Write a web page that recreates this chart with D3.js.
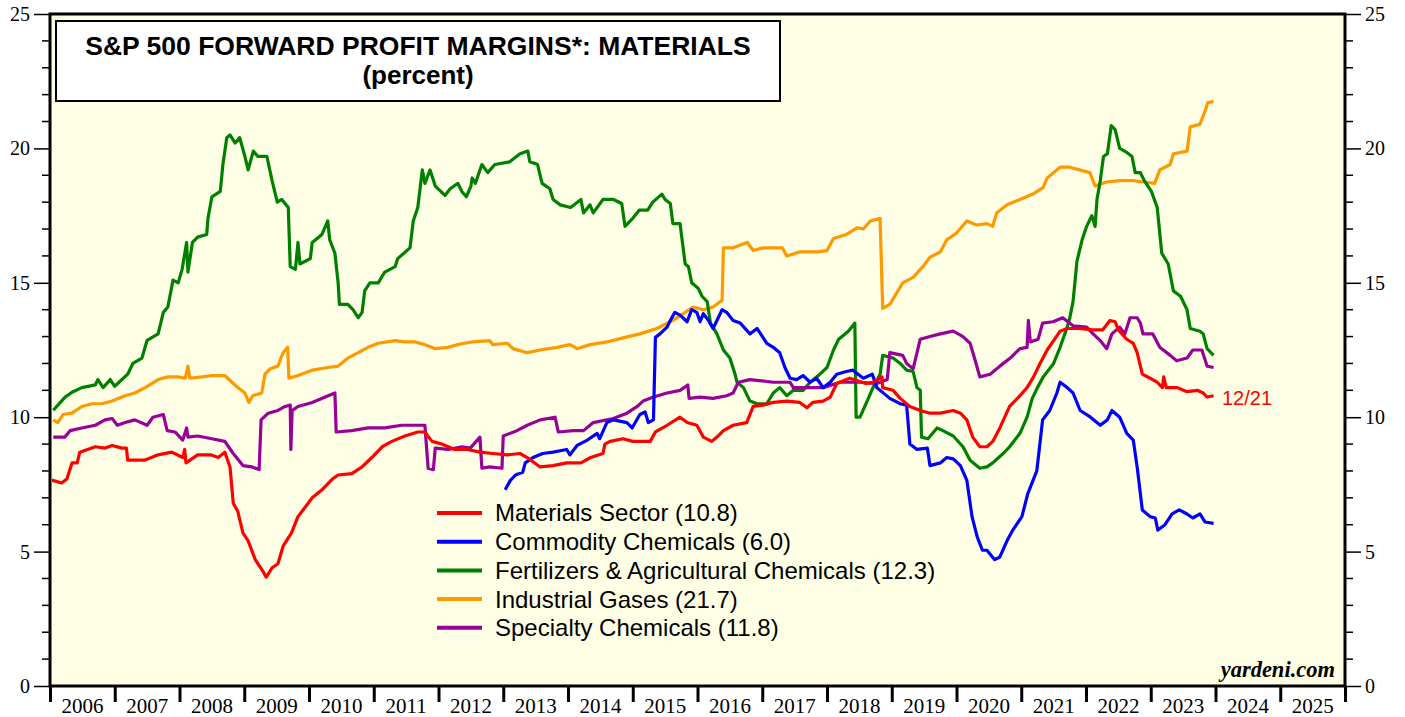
<!DOCTYPE html>
<html lang="en">
<head>
<meta charset="utf-8">
<title>S&P 500 Forward Profit Margins: Materials</title>
<script src="https://d3js.org/d3.v7.min.js"></script>
<style>
  body { margin: 0; background: #fff; }
  svg { display: block; }
</style>
</head>
<body>
<script>
// data: [decimal year, percent]
const materials = [[2006.03,7.66],[2006.18,7.55],[2006.26,7.7],[2006.34,8.3],[2006.42,8.3],[2006.46,8.7],[2006.58,8.8],[2006.7,8.9],[2006.85,8.85],[2006.96,8.95],[2007.11,8.85],[2007.18,8.85],[2007.2,8.4],[2007.46,8.4],[2007.67,8.6],[2007.88,8.7],[2008.05,8.5],[2008.08,8.8],[2008.1,8.3],[2008.28,8.6],[2008.48,8.6],[2008.6,8.5],[2008.7,8.7],[2008.78,8.15],[2008.83,6.8],[2008.9,6.5],[2008.98,5.7],[2009.06,5.4],[2009.17,4.7],[2009.28,4.3],[2009.34,4.05],[2009.43,4.4],[2009.52,4.55],[2009.6,5.2],[2009.73,5.7],[2009.83,6.3],[2009.94,6.65],[2010.05,7.0],[2010.2,7.3],[2010.36,7.7],[2010.45,7.85],[2010.66,7.9],[2010.82,8.15],[2010.97,8.5],[2011.13,8.9],[2011.28,9.1],[2011.48,9.3],[2011.68,9.45],[2011.79,9.45],[2011.9,9.1],[2012.05,9.0],[2012.25,8.8],[2012.45,8.8],[2012.64,8.7],[2012.84,8.65],[2013.06,8.6],[2013.26,8.65],[2013.37,8.5],[2013.57,8.15],[2013.77,8.2],[2013.98,8.3],[2014.2,8.3],[2014.35,8.5],[2014.54,8.65],[2014.57,9.0],[2014.65,9.1],[2014.85,9.2],[2015.0,9.1],[2015.16,9.1],[2015.27,9.1],[2015.35,9.45],[2015.53,9.7],[2015.73,10.0],[2015.84,9.8],[2015.99,9.7],[2016.09,9.26],[2016.22,9.1],[2016.3,9.26],[2016.4,9.5],[2016.55,9.7],[2016.76,9.8],[2016.86,10.4],[2017.01,10.45],[2017.17,10.55],[2017.38,10.6],[2017.58,10.55],[2017.69,10.35],[2017.78,10.55],[2017.94,10.6],[2018.05,10.75],[2018.15,11.25],[2018.35,11.45],[2018.6,11.25],[2018.71,11.3],[2018.85,11.5],[2018.86,11.1],[2019.02,11.0],[2019.13,10.7],[2019.28,10.4],[2019.44,10.25],[2019.59,10.15],[2019.75,10.15],[2019.95,10.25],[2020.06,10.15],[2020.16,9.9],[2020.25,9.26],[2020.36,8.9],[2020.47,8.9],[2020.56,9.1],[2020.67,9.6],[2020.82,10.4],[2020.98,10.8],[2021.09,11.1],[2021.19,11.5],[2021.29,12.0],[2021.4,12.5],[2021.5,12.85],[2021.6,13.2],[2021.71,13.3],[2021.9,13.3],[2022.1,13.25],[2022.26,13.25],[2022.37,13.6],[2022.45,13.55],[2022.5,13.25],[2022.63,12.9],[2022.73,12.75],[2022.79,12.4],[2022.87,11.6],[2022.99,11.45],[2023.1,11.3],[2023.18,11.1],[2023.2,11.5],[2023.24,11.1],[2023.41,11.1],[2023.56,10.95],[2023.72,11.0],[2023.81,10.9],[2023.87,10.75],[2023.97,10.8]];

const commodity = [[2013.03,7.3],[2013.11,7.65],[2013.19,7.85],[2013.3,7.95],[2013.34,8.3],[2013.46,8.5],[2013.61,8.65],[2013.77,8.7],[2013.98,8.8],[2014.03,8.6],[2014.14,8.95],[2014.3,9.15],[2014.45,9.4],[2014.49,9.2],[2014.6,9.8],[2014.7,9.9],[2014.91,9.8],[2014.99,9.6],[2015.11,10.1],[2015.19,10.2],[2015.24,9.8],[2015.32,9.9],[2015.35,12.97],[2015.42,13.1],[2015.53,13.35],[2015.58,13.6],[2015.65,13.9],[2015.73,13.8],[2015.84,13.55],[2015.91,14.0],[2015.99,13.9],[2016.04,13.55],[2016.09,13.85],[2016.17,13.6],[2016.24,13.3],[2016.3,13.6],[2016.38,14.0],[2016.45,13.9],[2016.55,13.6],[2016.66,13.5],[2016.81,13.1],[2016.92,13.3],[2017.07,12.75],[2017.17,12.6],[2017.27,12.4],[2017.35,11.85],[2017.43,11.45],[2017.53,11.4],[2017.63,11.55],[2017.74,11.3],[2017.84,11.45],[2017.94,11.1],[2018.05,11.3],[2018.15,11.6],[2018.3,11.7],[2018.4,11.75],[2018.56,11.45],[2018.7,11.6],[2018.77,11.1],[2018.97,10.7],[2019.13,10.5],[2019.23,10.45],[2019.28,9.0],[2019.39,8.8],[2019.55,8.85],[2019.59,8.2],[2019.75,8.3],[2019.85,8.5],[2019.95,8.45],[2020.06,8.2],[2020.16,7.65],[2020.24,6.3],[2020.32,5.55],[2020.4,5.05],[2020.47,5.05],[2020.59,4.7],[2020.67,4.8],[2020.78,5.4],[2020.87,5.8],[2021.01,6.3],[2021.1,7.15],[2021.24,8.0],[2021.33,9.9],[2021.44,10.25],[2021.55,10.9],[2021.6,11.3],[2021.71,11.1],[2021.8,10.9],[2021.91,10.25],[2022.07,10.0],[2022.22,9.7],[2022.33,9.9],[2022.4,10.25],[2022.52,10.0],[2022.63,9.4],[2022.73,9.15],[2022.79,8.15],[2022.87,6.55],[2022.99,6.3],[2023.07,6.25],[2023.11,5.8],[2023.22,6.0],[2023.33,6.4],[2023.44,6.55],[2023.56,6.4],[2023.65,6.25],[2023.76,6.4],[2023.84,6.1],[2023.97,6.05]];

const fertilizers = [[2006.05,10.26],[2006.23,10.74],[2006.34,10.93],[2006.49,11.1],[2006.7,11.2],[2006.74,11.4],[2006.82,11.1],[2006.93,11.4],[2007.0,11.15],[2007.2,11.6],[2007.28,12.0],[2007.42,12.2],[2007.5,12.86],[2007.67,13.1],[2007.75,13.9],[2007.82,14.1],[2007.9,15.1],[2007.98,15.0],[2008.04,15.5],[2008.11,16.5],[2008.13,15.4],[2008.2,16.5],[2008.28,16.7],[2008.42,16.8],[2008.44,17.4],[2008.5,18.2],[2008.63,18.4],[2008.67,19.4],[2008.73,20.4],[2008.78,20.5],[2008.86,20.2],[2008.93,20.4],[2009.01,19.7],[2009.06,19.2],[2009.14,19.9],[2009.21,19.7],[2009.35,19.7],[2009.43,18.8],[2009.51,18.0],[2009.58,18.1],[2009.68,17.8],[2009.71,15.6],[2009.79,15.5],[2009.83,16.5],[2009.86,15.7],[2010.02,15.9],[2010.05,16.5],[2010.2,16.8],[2010.29,17.3],[2010.32,16.6],[2010.4,16.1],[2010.45,15.0],[2010.47,14.2],[2010.6,14.2],[2010.68,14.0],[2010.76,13.7],[2010.82,13.9],[2010.86,14.7],[2010.94,15.0],[2011.07,15.0],[2011.17,15.4],[2011.33,15.6],[2011.37,15.9],[2011.56,16.3],[2011.61,17.3],[2011.68,17.8],[2011.75,19.2],[2011.79,18.7],[2011.87,19.2],[2011.95,18.6],[2012.1,18.25],[2012.18,18.5],[2012.3,18.7],[2012.36,18.4],[2012.43,18.2],[2012.5,18.6],[2012.52,18.9],[2012.57,18.7],[2012.67,19.4],[2012.76,19.1],[2012.87,19.4],[2013.1,19.5],[2013.26,19.8],[2013.38,19.9],[2013.41,19.5],[2013.53,19.4],[2013.6,18.7],[2013.72,18.5],[2013.77,18.1],[2013.88,17.9],[2014.04,17.8],[2014.2,18.1],[2014.24,17.6],[2014.34,17.9],[2014.39,17.6],[2014.54,18.1],[2014.7,18.1],[2014.83,17.95],[2014.88,17.1],[2015.0,17.4],[2015.1,17.7],[2015.23,17.7],[2015.31,18.0],[2015.45,18.3],[2015.5,18.1],[2015.58,17.95],[2015.62,17.2],[2015.73,17.2],[2015.81,15.7],[2015.86,15.6],[2015.91,15.0],[2016.01,14.8],[2016.07,14.5],[2016.15,14.3],[2016.2,13.5],[2016.3,13.1],[2016.4,12.5],[2016.5,12.2],[2016.58,11.6],[2016.61,11.3],[2016.71,11.1],[2016.81,10.6],[2016.92,10.5],[2017.07,10.5],[2017.17,10.9],[2017.27,11.1],[2017.38,10.8],[2017.48,11.0],[2017.63,11.0],[2017.74,11.3],[2017.89,11.6],[2018.0,11.85],[2018.1,12.5],[2018.18,12.9],[2018.33,13.2],[2018.43,13.5],[2018.45,10.0],[2018.51,10.0],[2018.62,10.6],[2018.71,11.1],[2018.82,11.6],[2018.86,12.3],[2019.02,12.2],[2019.13,12.0],[2019.23,11.75],[2019.33,11.7],[2019.39,11.1],[2019.44,11.0],[2019.46,9.26],[2019.56,9.2],[2019.7,9.6],[2019.79,9.5],[2019.95,9.3],[2020.1,8.9],[2020.21,8.4],[2020.36,8.1],[2020.47,8.15],[2020.56,8.3],[2020.72,8.65],[2020.82,8.9],[2020.98,9.4],[2021.09,10.0],[2021.17,10.7],[2021.25,11.1],[2021.34,11.5],[2021.5,12.0],[2021.6,12.6],[2021.71,13.35],[2021.75,13.7],[2021.8,14.3],[2021.86,15.8],[2021.94,16.6],[2022.01,17.1],[2022.09,17.5],[2022.14,17.1],[2022.17,18.1],[2022.22,18.8],[2022.27,19.7],[2022.33,19.8],[2022.39,20.85],[2022.45,20.7],[2022.52,20.0],[2022.63,19.85],[2022.71,19.7],[2022.76,19.1],[2022.84,19.1],[2022.9,18.8],[2023.01,18.4],[2023.1,17.8],[2023.17,16.1],[2023.27,15.7],[2023.35,14.7],[2023.46,14.5],[2023.56,14.0],[2023.61,13.3],[2023.76,13.2],[2023.81,13.1],[2023.87,12.55],[2023.97,12.3]];

const gases = [[2006.05,9.9],[2006.12,9.8],[2006.2,10.1],[2006.34,10.15],[2006.49,10.4],[2006.65,10.5],[2006.8,10.5],[2006.96,10.6],[2007.16,10.8],[2007.31,10.9],[2007.47,11.1],[2007.67,11.4],[2007.82,11.5],[2007.98,11.5],[2008.09,11.45],[2008.13,11.9],[2008.16,11.45],[2008.35,11.5],[2008.5,11.55],[2008.7,11.55],[2008.81,11.3],[2008.9,11.1],[2009.01,10.9],[2009.07,10.55],[2009.13,10.8],[2009.27,10.9],[2009.32,11.6],[2009.4,11.8],[2009.52,11.9],[2009.6,12.4],[2009.67,12.6],[2009.69,11.45],[2009.83,11.55],[2010.05,11.75],[2010.29,11.85],[2010.45,11.9],[2010.6,12.2],[2010.76,12.4],[2010.91,12.6],[2011.07,12.75],[2011.33,12.85],[2011.48,12.8],[2011.64,12.8],[2011.79,12.7],[2011.95,12.55],[2012.15,12.6],[2012.3,12.7],[2012.4,12.75],[2012.53,12.8],[2012.79,12.85],[2012.84,12.7],[2013.06,12.75],[2013.15,12.55],[2013.37,12.4],[2013.57,12.5],[2013.83,12.6],[2014.03,12.7],[2014.14,12.55],[2014.34,12.7],[2014.6,12.8],[2014.85,12.95],[2015.11,13.1],[2015.37,13.3],[2015.62,13.6],[2015.78,13.85],[2015.93,14.1],[2016.09,14.0],[2016.24,14.1],[2016.38,14.35],[2016.4,16.3],[2016.55,16.3],[2016.77,16.5],[2016.86,16.2],[2017.01,16.3],[2017.17,16.3],[2017.31,16.3],[2017.38,16.0],[2017.58,16.15],[2017.85,16.15],[2018.0,16.2],[2018.1,16.65],[2018.3,16.8],[2018.47,17.05],[2018.56,17.0],[2018.67,17.3],[2018.82,17.4],[2018.86,14.05],[2018.97,14.2],[2019.07,14.6],[2019.17,15.0],[2019.33,15.2],[2019.48,15.6],[2019.59,15.95],[2019.75,16.15],[2019.85,16.6],[2020.0,16.85],[2020.16,17.3],[2020.31,17.15],[2020.47,17.2],[2020.56,17.1],[2020.62,17.6],[2020.78,17.9],[2020.98,18.1],[2021.18,18.3],[2021.34,18.55],[2021.4,18.9],[2021.6,19.3],[2021.75,19.3],[2021.9,19.2],[2022.06,19.1],[2022.14,18.6],[2022.32,18.75],[2022.52,18.8],[2022.73,18.8],[2022.88,18.75],[2023.06,18.7],[2023.14,19.2],[2023.3,19.4],[2023.35,19.8],[2023.56,19.9],[2023.61,20.8],[2023.76,20.9],[2023.84,21.4],[2023.88,21.7],[2023.97,21.75]];

const specialty = [[2006.05,9.26],[2006.23,9.26],[2006.31,9.5],[2006.49,9.6],[2006.7,9.7],[2006.85,9.9],[2006.96,9.95],[2007.04,9.7],[2007.16,9.8],[2007.31,9.9],[2007.5,9.7],[2007.59,10.0],[2007.75,10.1],[2007.81,9.5],[2007.93,9.45],[2008.05,9.15],[2008.11,9.6],[2008.13,9.26],[2008.28,9.3],[2008.5,9.2],[2008.7,9.1],[2008.83,8.65],[2008.98,8.2],[2009.12,8.15],[2009.23,8.05],[2009.26,9.9],[2009.37,10.15],[2009.52,10.25],[2009.63,10.4],[2009.71,10.45],[2009.72,8.8],[2009.74,10.25],[2009.83,10.4],[2010.05,10.55],[2010.25,10.75],[2010.4,10.9],[2010.42,9.45],[2010.66,9.5],[2010.91,9.6],[2011.17,9.6],[2011.43,9.7],[2011.59,9.7],[2011.79,9.7],[2011.84,8.1],[2011.92,8.05],[2011.95,8.85],[2012.15,8.8],[2012.36,8.9],[2012.49,8.85],[2012.64,9.26],[2012.67,8.1],[2012.79,8.15],[2012.98,8.1],[2013.0,9.3],[2013.21,9.5],[2013.37,9.7],[2013.57,9.9],[2013.8,10.0],[2013.85,9.45],[2014.08,9.5],[2014.24,9.5],[2014.39,9.8],[2014.7,9.95],[2014.91,10.15],[2015.07,10.4],[2015.16,10.6],[2015.32,10.75],[2015.53,10.9],[2015.73,11.0],[2015.85,11.2],[2015.87,10.7],[2016.04,10.75],[2016.24,10.7],[2016.45,10.8],[2016.55,10.9],[2016.63,11.3],[2016.81,11.4],[2017.17,11.3],[2017.43,11.3],[2017.48,11.1],[2017.69,11.1],[2017.94,11.1],[2018.2,11.3],[2018.51,11.3],[2018.77,11.25],[2018.93,11.4],[2018.97,12.4],[2019.17,12.3],[2019.23,12.0],[2019.33,11.8],[2019.44,12.9],[2019.59,13.0],[2019.75,13.1],[2019.95,13.2],[2020.1,13.0],[2020.21,12.75],[2020.29,12.1],[2020.36,11.5],[2020.52,11.6],[2020.67,11.9],[2020.83,12.2],[2020.98,12.55],[2021.09,12.6],[2021.11,13.6],[2021.14,12.8],[2021.26,12.9],[2021.33,13.5],[2021.49,13.55],[2021.64,13.7],[2021.8,13.4],[2022.01,13.35],[2022.11,13.1],[2022.22,12.85],[2022.32,12.55],[2022.4,13.1],[2022.52,13.35],[2022.6,13.1],[2022.68,13.7],[2022.79,13.7],[2022.84,13.5],[2022.88,13.1],[2023.03,13.1],[2023.14,12.6],[2023.3,12.3],[2023.4,12.1],[2023.56,12.2],[2023.65,12.5],[2023.79,12.5],[2023.87,11.9],[2023.97,11.85]];

const seriesNames = ["Materials Sector (10.8)", "Commodity Chemicals (6.0)", "Fertilizers & Agricultural Chemicals (12.3)", "Industrial Gases (21.7)", "Specialty Chemicals (11.8)"];
const seriesColors = ["#ff0000", "#0000ff", "#008000", "#ff9900", "#990099"];
const yTicks = [0, 5, 10, 15, 20, 25];
const yearLabels = d3.range(2006, 2026);

const W = 1405, H = 717;
const plot = {left: 50, right: 1345, top: 14, bottom: 686};

const x = d3.scaleLinear().domain([2006, 2026]).range([plot.left, plot.right]);
const y = d3.scaleLinear().domain([0, 25]).range([plot.bottom, plot.top]);

const svg = d3.select("body").append("svg")
    .attr("width", W)
    .attr("height", H);

// plot background
svg.append("rect")
    .attr("x", plot.left).attr("y", plot.top)
    .attr("width", plot.right - plot.left).attr("height", plot.bottom - plot.top)
    .attr("fill", "#ffffe5");

// y axes, both sides
const yAxisL = d3.axisLeft(y).tickValues(yTicks).tickSize(16).tickFormat(d3.format("d"));
const yAxisR = d3.axisRight(y).tickValues(yTicks).tickSize(16).tickFormat(d3.format("d"));

const gl = svg.append("g").attr("transform", `translate(${plot.left},0)`).call(yAxisL);
const gr = svg.append("g").attr("transform", `translate(${plot.right},0)`).call(yAxisR);
[gl, gr].forEach(g => {
  g.select(".domain").remove();
  g.selectAll("line").attr("stroke", "#000").attr("stroke-width", 1.5);
  g.selectAll("text")
    .attr("font-family", "'Liberation Serif', 'Times New Roman', serif")
    .attr("font-size", 20)
    .attr("fill", "#000");
});
gl.selectAll("text").attr("x", -20).attr("dy", "0.32em");
gr.selectAll("text").attr("x", 20).attr("dy", "0.32em");

// minor y ticks
const minor = d3.range(0, 26).filter(v => v % 5 !== 0);
svg.append("g").selectAll("line").data(minor).join("line")
    .attr("x1", plot.left - 8).attr("x2", plot.left)
    .attr("y1", d => y(d)).attr("y2", d => y(d))
    .attr("stroke", "#000").attr("stroke-width", 1.5);
svg.append("g").selectAll("line").data(minor).join("line")
    .attr("x1", plot.right).attr("x2", plot.right + 8)
    .attr("y1", d => y(d)).attr("y2", d => y(d))
    .attr("stroke", "#000").attr("stroke-width", 1.5);

// x axis: ticks at year boundaries, labels centred in each year
const gx = svg.append("g").attr("transform", `translate(0,${plot.bottom})`)
    .call(d3.axisBottom(x).tickValues(d3.range(2006, 2027)).tickSize(16).tickFormat(""));
gx.select(".domain").remove();
gx.selectAll("line").attr("stroke", "#000").attr("stroke-width", 3);

svg.append("g").selectAll("text").data(yearLabels).join("text")
    .attr("x", d => x(d + 0.5))
    .attr("y", 713)
    .attr("text-anchor", "middle")
    .attr("font-family", "'Liberation Serif', 'Times New Roman', serif")
    .attr("font-size", 21)
    .text(d => d);

// frame
svg.append("rect")
    .attr("x", plot.left).attr("y", plot.top)
    .attr("width", plot.right - plot.left).attr("height", plot.bottom - plot.top)
    .attr("fill", "none").attr("stroke", "#000").attr("stroke-width", 3);

// title box
svg.append("rect")
    .attr("x", 56).attr("y", 21).attr("width", 724).attr("height", 80)
    .attr("fill", "#fff").attr("stroke", "#000").attr("stroke-width", 2);
svg.append("text")
    .attr("x", 418).attr("y", 55)
    .attr("text-anchor", "middle")
    .attr("font-family", "'Liberation Sans', Arial, sans-serif")
    .attr("font-weight", "bold").attr("font-size", 26.5)
    .text("S&P 500 FORWARD PROFIT MARGINS*: MATERIALS");
svg.append("text")
    .attr("x", 418).attr("y", 84)
    .attr("text-anchor", "middle")
    .attr("font-family", "'Liberation Sans', Arial, sans-serif")
    .attr("font-weight", "bold").attr("font-size", 26)
    .text("(percent)");

// series lines
const line = d3.line().x(d => x(d[0])).y(d => y(d[1]));
const allSeries = [materials, commodity, fertilizers, gases, specialty];
const drawOrder = [3, 2, 4, 1, 0];
svg.append("g").selectAll("path").data(drawOrder).join("path")
    .attr("d", i => line(allSeries[i]))
    .attr("fill", "none")
    .attr("stroke", i => seriesColors[i])
    .attr("stroke-width", 3.2)
    .attr("stroke-linejoin", "round");

// end label
svg.append("text")
    .attr("x", 1222).attr("y", 405)
    .attr("font-family", "'Liberation Sans', Arial, sans-serif")
    .attr("font-size", 20)
    .attr("fill", "#ff0000")
    .text("12/21");

// legend
const legend = svg.append("g").selectAll("g").data(seriesNames).join("g")
    .attr("transform", (d, i) => `translate(437,${513 + i * 28.7})`);
legend.append("line")
    .attr("x1", 0).attr("x2", 45)
    .attr("stroke", (d, i) => seriesColors[i])
    .attr("stroke-width", 4);
legend.append("text")
    .attr("x", 58).attr("dy", "0.35em")
    .attr("font-family", "'Liberation Sans', Arial, sans-serif")
    .attr("font-size", 24)
    .text(d => d);

// source
svg.append("text")
    .attr("x", 1335).attr("y", 677)
    .attr("text-anchor", "end")
    .attr("font-family", "'Liberation Serif', 'Times New Roman', serif")
    .attr("font-weight", "bold").attr("font-style", "italic")
    .attr("font-size", 22.5)
    .text("yardeni.com");
</script>
</body>
</html>
